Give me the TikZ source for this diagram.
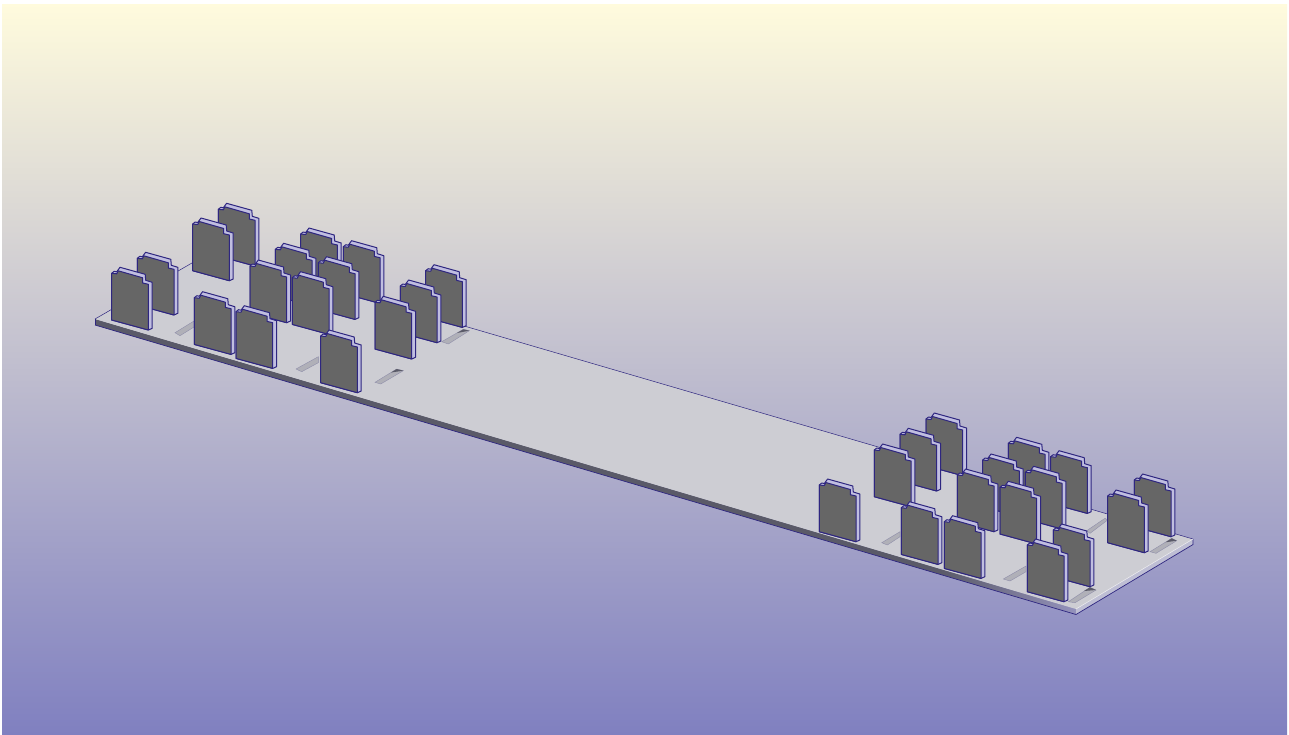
\documentclass[tikz,border=0pt]{standalone}
\usepackage{tikz}
\definecolor{bgtop}{HTML}{FFFBDD}
\definecolor{bgbottom}{HTML}{8080C0}
\definecolor{edgeblue}{HTML}{2E2680}
\definecolor{facegrey}{HTML}{666666}
\definecolor{sidelilac}{HTML}{C0BEE0}
\definecolor{platetop}{HTML}{CDCDD3}
\definecolor{platedark}{HTML}{5A5A68}
\definecolor{platemid}{HTML}{9492BC}
\definecolor{platelight}{HTML}{BEBED4}
\definecolor{slitgrey}{HTML}{B0B0B8}
\tikzset{
  outline/.style={draw=edgeblue,line width=1pt,line join=round},
  finface/.style={outline,fill=facegrey},
  finside/.style={outline,fill=sidelilac},
  slitbox/.style={draw=slitgrey!75!edgeblue,line width=0.4pt,fill=slitgrey},
  slitwall/.style={fill=platedark},
  plateedge/.style={draw=edgeblue,line width=0.7pt},
}
\newcommand{\fin}[2]{%
  \begin{scope}[shift={(#1,#2)}]
    \draw[finside] (0,0) -- (2.5,-2) -- (5,-1.5) -- (8.3,-6) -- (33.5,1) -- (34,7)
      -- (40.5,9) -- (40.5,55) -- (36.7,56.7) -- (0,46.7) -- cycle;
    \draw[finface] (0,0) -- (5,0.5) -- (6.5,-2.5) -- (31,4.5) -- (31,9.7) -- (36.7,11)
      -- (36.7,56.7) -- (0,46.7) -- cycle;
  \end{scope}}
\begin{document}
\begin{tikzpicture}[x=1pt,y=-1pt]
  \useasboundingbox (0,0) rectangle (1289,734);
  \fill[white] (0,0) rectangle (1289,734);
  \shade[top color=bgtop,bottom color=bgbottom] (2,4) rectangle (1287,734);
  %% plate
  \fill[platedark] (95,319) -- (940,568.8) -- (940,574.3) -- (95,325) -- cycle;
  \shade[left color=platedark,right color=platemid]
    (940,568.8) -- (1076,609) -- (1076,614.5) -- (940,574.3) -- cycle;
  \fill[platelight] (1076,609) -- (1193,539) -- (1193,544.5) -- (1076,614.5) -- cycle;
  \fill[platetop] (95,319) -- (211,252) -- (1193,539) -- (1076,609) -- cycle;
  \draw[plateedge] (95,325) -- (1076,614.5) -- (1193,544.5) -- (1193,539);
  \draw[plateedge,line width=0.5pt] (95,319) -- (95,325);
  \draw[plateedge,line width=0.5pt] (95,319) -- (211,252) -- (1193,539);
  \draw[white!70!platetop,line width=0.5pt] (1076,609) -- (1193,539);
  %% slits
  \draw[slitbox] (175,332.7) -- (194,321) -- (194,327) -- (180,335.7) -- cycle;
  \draw[slitbox] (296,369) -- (318.3,356.7) -- (318.3,362.7) -- (301.7,371.7) -- cycle;
  \draw[slitbox] (375,382.3) -- (396.7,369) -- (403.3,370.7) -- (380.7,384) -- cycle;
  \fill[slitwall] (391,372.5) -- (396.7,369) -- (403.3,370.7) -- cycle;
  \draw[slitbox] (441.7,341.7) -- (463.3,329.3) -- (469.3,330.7) -- (448.3,344) -- cycle;
  \fill[slitwall] (457,333) -- (463.3,329.3) -- (469.3,330.7) -- cycle;
  \draw[slitbox] (881.7,542.7) -- (900,531.7) -- (900,536.7) -- (887.3,545) -- cycle;
  \draw[slitbox] (1003.3,579) -- (1026,566) -- (1026,571.7) -- (1010,581) -- cycle;
  \draw[slitbox] (1068.3,601.7) -- (1090,587.3) -- (1096,590) -- (1075,602.7) -- cycle;
  \fill[slitwall] (1084,591) -- (1090,587.3) -- (1096,590) -- cycle;
  \draw[slitbox] (1086.7,530.7) -- (1105,518.3) -- (1107.7,520) -- (1090,533.3) -- cycle;
  \draw[slitbox] (1150,551.7) -- (1171.7,538.3) -- (1176.7,540.7) -- (1156,553.3) -- cycle;
  \fill[slitwall] (1165.5,542.3) -- (1171.7,538.3) -- (1176.7,540.7) -- cycle;
  %% fins, back to front
  \foreach \fx/\fy in {218.3/209.3,192.7/224,300.7/234,343.3/246.7,275.3/249.3,137.3/258.3,
      318.3/262.7,250/266,425.7/270.7,111.7/273.3,292.3/277.7,400.3/286,194.3/297.7,
      375/302.3,236/311.7,320.7/336}
    {\fin{\fx}{\fy}}
  \foreach \fx/\fy in {926/419,900/434.3,1008.3/443.3,874.3/450,1050.7/456.7,982.7/460,
      1025.3/472.3,957.3/475,1134.3/480,819.3/485,1000/487.3,1107.7/496,901.3/507.7,
      944.3/521.7,1053.3/530,1027.3/545}
    {\fin{\fx}{\fy}}
\end{tikzpicture}
\end{document}
